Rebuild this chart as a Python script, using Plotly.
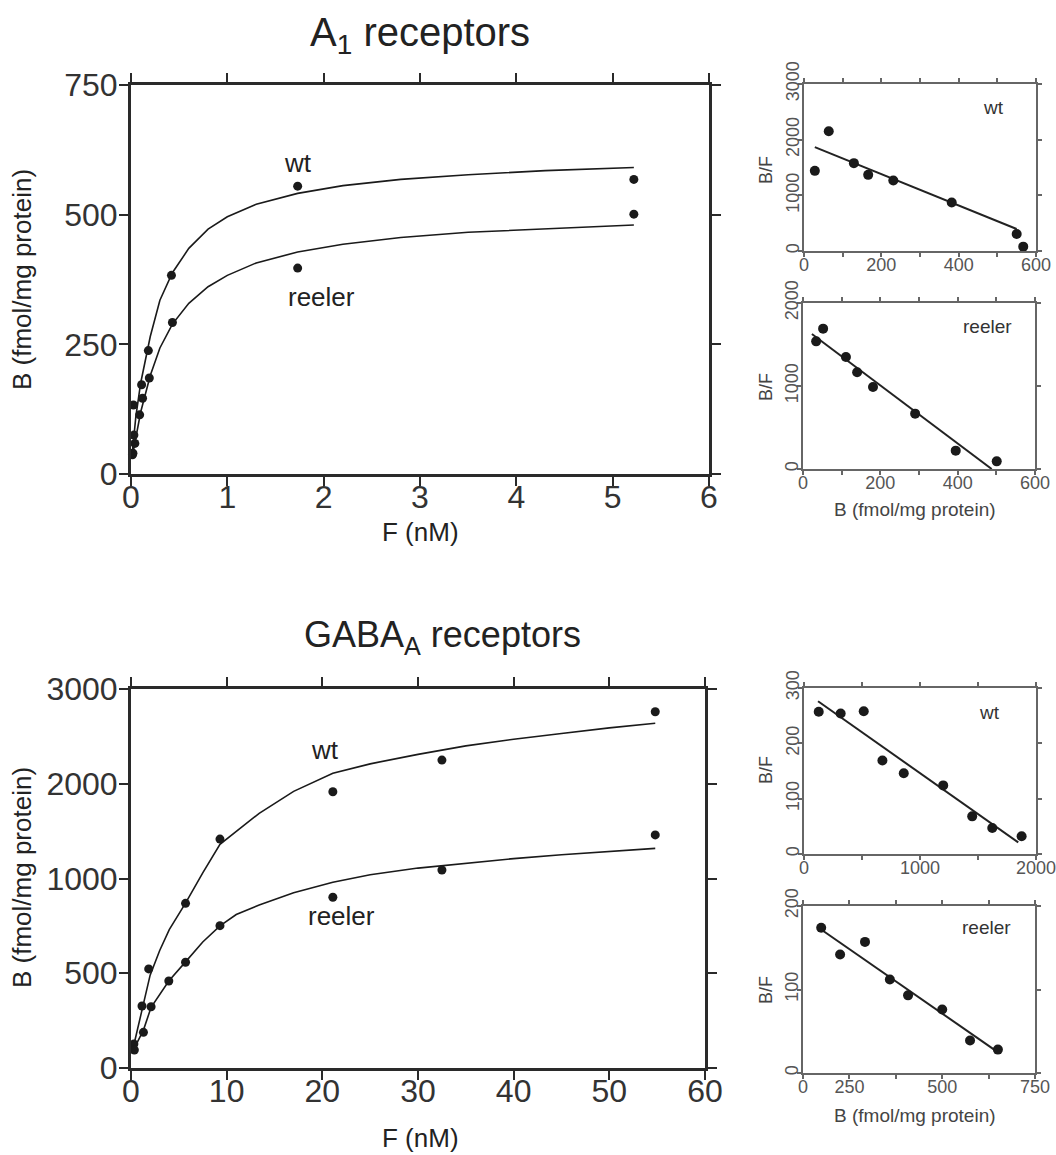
import plotly.graph_objects as go

W, H = 1056, 1155
FONT = "Liberation Sans, Arial, Helvetica, sans-serif"

# ---------------- A1 receptors: saturation data ----------------
a1_wt_F = [0.015, 0.03, 0.025, 0.11, 0.18, 0.42, 1.73, 5.22]
a1_wt_B = [37, 75, 133, 172, 238, 383, 555, 568]
a1_re_F = [0.02, 0.04, 0.09, 0.12, 0.19, 0.43, 1.73, 5.22]
a1_re_B = [40, 59, 114, 146, 185, 292, 397, 501]
# fitted curves
a1_curve_F = [0.01, 0.05, 0.1, 0.2, 0.3, 0.43, 0.6, 0.8, 1.0, 1.3, 1.73, 2.2, 2.8, 3.5, 4.3, 5.22]
a1_wt_curve = [35, 110, 175, 265, 335, 388, 435, 472, 496, 520, 541, 556, 568, 577, 585, 591]
a1_re_curve = [30, 67, 119, 190, 243, 289, 329, 361, 383, 407, 428, 443, 456, 466, 473, 480]

# A1 Scatchard
a1s_wt_B = [28, 64, 129, 166, 231, 382, 550, 567]
a1s_wt_BF = [1440, 2150, 1578, 1368, 1266, 870, 306, 78]
a1s_wt_line_B = [28, 550]
a1s_wt_line_BF = [1866, 396]
a1s_re_B = [34, 52, 111, 140, 181, 290, 395, 501]
a1s_re_BF = [1538, 1691, 1349, 1165, 988, 667, 221, 92]
a1s_re_line_B = [23, 488]
a1s_re_line_BF = [1627, 0]

# ---------------- GABA_A receptors: saturation data ----------------
gaba_ticks = [0, 500, 1000, 1500, 2000]
gaba_ticktext = ["0", "500", "1000", "2000", "3000"]
g_wt_F = [0.3, 1.15, 1.85, 5.7, 9.3, 21.1, 32.5, 54.8]
g_wt_B = [127, 327, 523, 869, 1208, 1458, 1625, 1880]
g_re_F = [0.35, 1.3, 2.1, 3.95, 5.7, 9.3, 21.1, 32.5, 54.8]
g_re_B = [95, 188, 323, 459, 558, 751, 901, 1045, 1230]
g_wt_curve_F = [0.2, 1.2, 2.0, 3.0, 4.0, 5.7, 7.5, 9.3, 13.4, 17, 21.1, 25, 30, 35, 40, 45, 50, 54.8]
g_wt_curve_B = [100, 320, 490, 620, 730, 870, 1030, 1180, 1344, 1460, 1555, 1605, 1655, 1700, 1735, 1765, 1795, 1819]
g_re_curve_F = [0.2, 1.3, 2.1, 3.95, 5.7, 7.5, 9.3, 11, 13.4, 17, 21.1, 25, 30, 35, 40, 45, 50, 54.8]
g_re_curve_B = [90, 200, 320, 459, 560, 665, 750, 810, 860, 925, 980, 1020, 1055, 1080, 1105, 1125, 1143, 1159]

# GABA_A Scatchard
gs_wt_B = [127, 316, 515, 676, 860, 1200, 1450, 1623, 1876]
gs_wt_BF = [257, 254, 258, 169, 146, 124, 68, 47, 32]
gs_wt_line_B = [121, 1847]
gs_wt_line_BF = [276, 21]
gs_re_ticks = [125, 250, 500, 750]
gs_re_ticktext = ["0", "250", "500", "750"]
gs_re_B = [174, 225, 292, 359, 408, 500, 575, 650]
gs_re_BF = [174, 142, 157, 112, 93, 76, 39, 28]
gs_re_line_B = [167, 640]
gs_re_line_BF = [174, 28]


def dom_x(a, b):
    return [a / W, b / W]


def dom_y(top, bottom):
    return [1 - bottom / H, 1 - top / H]


fig = go.Figure()

DOT = dict(color="#1a1a1a", size=9)
DOT_S = dict(color="#1a1a1a", size=10)
LINE = dict(color="#1a1a1a", width=1.6)
LINE_S = dict(color="#222", width=2)


def add(xs, ys, ax, mode, style):
    xa = "x" if ax == 1 else f"x{ax}"
    ya = "y" if ax == 1 else f"y{ax}"
    if mode == "markers":
        fig.add_trace(go.Scatter(x=xs, y=ys, mode="markers", marker=style,
                                 xaxis=xa, yaxis=ya, showlegend=False, cliponaxis=False))
    else:
        fig.add_trace(go.Scatter(x=xs, y=ys, mode="lines", line=style,
                                 xaxis=xa, yaxis=ya, showlegend=False))


# A1 main (axis 1)
add(a1_curve_F, a1_wt_curve, 1, "lines", LINE)
add(a1_curve_F, a1_re_curve, 1, "lines", LINE)
add(a1_wt_F, a1_wt_B, 1, "markers", DOT)
add(a1_re_F, a1_re_B, 1, "markers", DOT)
# A1 scatchard wt (2), reeler (3)
add(a1s_wt_line_B, a1s_wt_line_BF, 2, "lines", LINE_S)
add(a1s_wt_B, a1s_wt_BF, 2, "markers", DOT_S)
add(a1s_re_line_B, a1s_re_line_BF, 3, "lines", LINE_S)
add(a1s_re_B, a1s_re_BF, 3, "markers", DOT_S)
# GABA main (4)
add(g_wt_curve_F, g_wt_curve_B, 4, "lines", LINE)
add(g_re_curve_F, g_re_curve_B, 4, "lines", LINE)
add(g_wt_F, g_wt_B, 4, "markers", DOT)
add(g_re_F, g_re_B, 4, "markers", DOT)
# GABA scatchard wt (5), reeler (6)
add(gs_wt_line_B, gs_wt_line_BF, 5, "lines", LINE_S)
add(gs_wt_B, gs_wt_BF, 5, "markers", DOT_S)
add(gs_re_line_B, gs_re_line_BF, 6, "lines", LINE_S)
add(gs_re_B, gs_re_BF, 6, "markers", DOT_S)

main_ax = dict(showline=True, linewidth=3, linecolor="#2a2a2a", mirror="ticks",
               ticks="outside", ticklen=9, tickwidth=2, tickcolor="#2a2a2a",
               tickfont=dict(size=32, color="#333", family=FONT),
               showgrid=False, zeroline=False, fixedrange=True, automargin=False,
               ticklabeloverflow="allow")
small_ax = dict(showline=True, linewidth=1.5, linecolor="#666", mirror="ticks",
                ticks="outside", ticklen=4, tickwidth=1.5, tickcolor="#666",
                tickfont=dict(size=18, color="#555", family=FONT),
                showgrid=False, zeroline=False, fixedrange=True, automargin=False,
                ticklabeloverflow="allow")

MX = dict(ticklabelstandoff=-16)
MY = dict(ticklabelstandoff=-5)
SX = dict(ticklabelstandoff=-7)
SY = dict(ticklabelstandoff=-8)

lay = dict(
    width=W, height=H, margin=dict(l=0, r=0, t=0, b=0, autoexpand=False),
    paper_bgcolor="white", plot_bgcolor="white",
    font=dict(family=FONT, color="#222"),
    showlegend=False,
)

# axis 1: A1 main
lay["xaxis"] = dict(main_ax, **MX, domain=dom_x(131, 709), range=[0, 6], dtick=1, anchor="y")
lay["yaxis"] = dict(main_ax, **MY, domain=dom_y(85, 474), range=[0, 750], dtick=250, anchor="x")
# axis 2: A1 scatchard wt
lay["xaxis2"] = dict(small_ax, **SX, domain=dom_x(804, 1036), range=[0, 600], dtick=200, anchor="y2",
                     minor=dict(dtick=100, ticks="outside", ticklen=4, tickcolor="#666"))
lay["yaxis2"] = dict(small_ax, **SY, domain=dom_y(84, 251), range=[0, 3000], dtick=1000, anchor="x2",
                     tickangle=-90)
# axis 3: A1 scatchard reeler
lay["xaxis3"] = dict(small_ax, **SX, domain=dom_x(803, 1035), range=[0, 600], dtick=200, anchor="y3",
                     minor=dict(dtick=100, ticks="outside", ticklen=4, tickcolor="#666"))
lay["yaxis3"] = dict(small_ax, **SY, domain=dom_y(303, 469), range=[0, 2000], dtick=1000, anchor="x3",
                     tickangle=-90)
# axis 4: GABA main
lay["xaxis4"] = dict(main_ax, **MX, domain=dom_x(131, 705), range=[0, 60], dtick=10, anchor="y4")
lay["yaxis4"] = dict(main_ax, **MY, domain=dom_y(689, 1068), range=[0, 2000], tickmode="array",
                     tickvals=gaba_ticks, ticktext=gaba_ticktext, anchor="x4")
# axis 5: GABA scatchard wt
lay["xaxis5"] = dict(small_ax, **SX, domain=dom_x(804, 1036), range=[0, 2000], dtick=1000, anchor="y5",
                     minor=dict(dtick=500, ticks="outside", ticklen=4, tickcolor="#666"))
lay["yaxis5"] = dict(small_ax, **SY, domain=dom_y(688, 854), range=[0, 300], dtick=100, anchor="x5",
                     tickangle=-90)
# axis 6: GABA scatchard reeler
lay["xaxis6"] = dict(small_ax, **SX, domain=dom_x(803, 1035), range=[125, 750], tickmode="array",
                     tickvals=gs_re_ticks, ticktext=gs_re_ticktext, anchor="y6",
                     minor=dict(tick0=0, dtick=125, ticks="outside", ticklen=4, tickcolor="#666"))
lay["yaxis6"] = dict(small_ax, **SY, domain=dom_y(906, 1073), range=[0, 200], dtick=100, anchor="x6",
                     tickangle=-90)

fig.update_layout(**lay)


def pann(text, px, py, size, angle=0, color="#222"):
    fig.add_annotation(text=text, x=px / W, y=1 - py / H, xref="paper", yref="paper",
                       showarrow=False, textangle=angle, xanchor="center", yanchor="middle",
                       font=dict(size=size, color=color, family=FONT))


def dann(text, x, y, ax, size, color="#222"):
    xr = "x" if ax == 1 else f"x{ax}"
    yr = "y" if ax == 1 else f"y{ax}"
    fig.add_annotation(text=text, x=x, y=y, xref=xr, yref=yr, showarrow=False,
                       xanchor="center", yanchor="middle",
                       font=dict(size=size, color=color, family=FONT))


# titles
pann("A<sub>1</sub> receptors", 420, 35, 40)
pann("GABA<sub>A</sub> receptors", 442, 637, 36)
# main axis titles
pann("B (fmol/mg protein)", 22, 280, 26, angle=-90)
pann("F (nM)", 420, 532, 26)
pann("B (fmol/mg protein)", 22, 878, 26, angle=-90)
pann("F (nM)", 420, 1138, 26)
# curve labels
dann("wt", 1.73, 600, 1, 26)
dann("reeler", 1.98, 341, 1, 26)
dann("wt", 20.3, 1678, 4, 26)
dann("reeler", 22.0, 802, 4, 26)
# scatchard labels
dann("wt", 489, 2569, 2, 19, "#333")
dann("reeler", 476, 1711, 3, 19, "#333")
dann("wt", 1603, 255, 5, 19, "#333")
dann("reeler", 620, 174, 6, 19, "#333")
pann("B/F", 766, 170, 18, angle=-90, color="#444")
pann("B/F", 766, 387, 18, angle=-90, color="#444")
pann("B/F", 766, 770, 18, angle=-90, color="#444")
pann("B/F", 766, 990, 18, angle=-90, color="#444")
pann("B (fmol/mg protein)", 915, 510, 19, color="#444")
pann("B (fmol/mg protein)", 915, 1115, 19, color="#444")

fig.write_html("out.html")
